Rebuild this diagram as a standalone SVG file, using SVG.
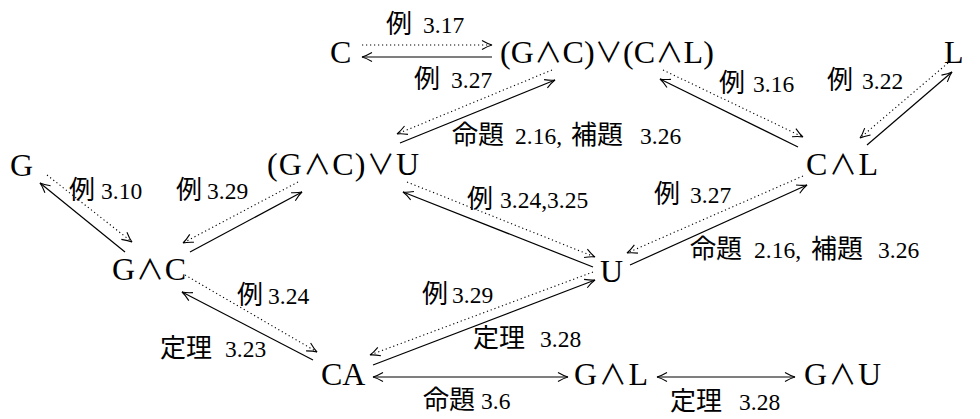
<svg xmlns="http://www.w3.org/2000/svg" width="980" height="419" viewBox="0 0 980 419">
  <style>
    .n { font-family: "Liberation Serif", "DejaVu Serif", serif; font-size: 32px; fill: #000; }
    .op { font-family: "Noto Sans CJK JP", "DejaVu Sans", sans-serif; font-size: 28px; }
    .j { font-family: "Noto Sans CJK JP", sans-serif; font-size: 26px; fill: #000; }
    .d { font-family: "Liberation Serif", serif; font-size: 23.5px; fill: #000; }
    .solid { stroke: #000; stroke-width: 1.2; fill: none; marker-end: url(#head); }
    .dot { stroke: #000; stroke-width: 1.1; fill: none; stroke-dasharray: 1.2 2.8; marker-end: url(#head); }
    .both { stroke: #000; stroke-width: 1.2; fill: none; marker-end: url(#head); marker-start: url(#head); }
  </style>
  <defs>
    <marker id="head" markerUnits="userSpaceOnUse" markerWidth="14" markerHeight="12" viewBox="-11 -6 13 12" refX="0" refY="0" orient="auto-start-reverse" overflow="visible">
      <path d="M-10,-4.5 C-5,-1.6 -2,-0.5 0,0 C-2,0.5 -5,1.6 -10,4.5" fill="none" stroke="#000" stroke-width="1.1"/>
    </marker>
  </defs>

  <!-- connectors -->
  <g id="edges">
    <line class="dot" x1="362" y1="45" x2="492" y2="45"/>
    <line class="solid" x1="492" y1="57" x2="362" y2="57"/>

    <line class="dot" x1="552" y1="70" x2="397" y2="134"/>
    <line class="solid" x1="400" y1="143" x2="555" y2="80"/>

    <line class="dot" x1="663" y1="70" x2="803" y2="137"/>
    <line class="solid" x1="798" y1="147" x2="660" y2="79"/>

    <line class="dot" x1="948" y1="63" x2="860" y2="138"/>
    <line class="solid" x1="867" y1="145" x2="952" y2="72"/>

    <line class="dot" x1="47" y1="175" x2="132" y2="242"/>
    <line class="solid" x1="125" y1="252" x2="40" y2="183"/>

    <line class="dot" x1="298" y1="182" x2="183" y2="243"/>
    <line class="solid" x1="190" y1="252" x2="302" y2="192"/>

    <line class="dot" x1="407" y1="182" x2="595" y2="257"/>
    <line class="solid" x1="593" y1="267" x2="403" y2="192"/>

    <line class="dot" x1="803" y1="176" x2="627" y2="253"/>
    <line class="solid" x1="630" y1="265" x2="807" y2="185"/>

    <line class="dot" x1="593" y1="272" x2="370" y2="355"/>
    <line class="solid" x1="373" y1="365" x2="595" y2="280"/>

    <line class="dot" x1="185" y1="275" x2="317" y2="352"/>
    <line class="solid" x1="313" y1="360" x2="182" y2="292"/>

    <line class="both" x1="373" y1="377" x2="568" y2="377"/>
    <line class="both" x1="657" y1="377" x2="795" y2="377"/>
  </g>

  <!-- edge labels -->
  <g id="labels">
    <text y="33"><tspan class="j" x="386">例</tspan><tspan class="d" x="423">3.17</tspan></text>
    <text y="88"><tspan class="j" x="414">例</tspan><tspan class="d" x="451">3.27</tspan></text>
    <text y="92"><tspan class="j" x="719">例</tspan><tspan class="d" x="753">3.16</tspan></text>
    <text y="89"><tspan class="j" x="827">例</tspan><tspan class="d" x="862">3.22</tspan></text>
    <text y="144"><tspan class="j" x="452">命題</tspan><tspan class="d" x="515">2.16,</tspan><tspan class="j" x="571">補題</tspan><tspan class="d" x="640">3.26</tspan></text>
    <text y="199"><tspan class="j" x="69">例</tspan><tspan class="d" x="101">3.10</tspan></text>
    <text y="199"><tspan class="j" x="176">例</tspan><tspan class="d" x="207">3.29</tspan></text>
    <text y="208"><tspan class="j" x="467">例</tspan><tspan class="d" x="500">3.24,3.25</tspan></text>
    <text y="203"><tspan class="j" x="654">例</tspan><tspan class="d" x="690">3.27</tspan></text>
    <text y="258"><tspan class="j" x="690">命題</tspan><tspan class="d" x="754">2.16,</tspan><tspan class="j" x="811">補題</tspan><tspan class="d" x="878">3.26</tspan></text>
    <text y="304"><tspan class="j" x="237">例</tspan><tspan class="d" x="268">3.24</tspan></text>
    <text y="303"><tspan class="j" x="422">例</tspan><tspan class="d" x="452">3.29</tspan></text>
    <text y="357"><tspan class="j" x="160">定理</tspan><tspan class="d" x="225">3.23</tspan></text>
    <text y="347"><tspan class="j" x="473">定理</tspan><tspan class="d" x="540">3.28</tspan></text>
    <text y="409"><tspan class="j" x="423">命題</tspan><tspan class="d" x="481">3.6</tspan></text>
    <text y="410"><tspan class="j" x="670">定理</tspan><tspan class="d" x="739">3.28</tspan></text>
  </g>

  <!-- nodes -->
  <g id="n-C"><text class="n" x="330" y="63">C</text></g>
  <g id="n-GCorCL"><text class="n" x="500" y="63" textLength="214" lengthAdjust="spacing">(G<tspan class="op">∧</tspan>C)<tspan class="op">∨</tspan>(C<tspan class="op">∧</tspan>L)</text></g>
  <g id="n-L"><text class="n" x="944" y="63">L</text></g>
  <g id="n-G"><text class="n" x="10" y="176">G</text></g>
  <g id="n-GCorU"><text class="n" x="267" y="175" textLength="152" lengthAdjust="spacing">(G<tspan class="op">∧</tspan>C)<tspan class="op">∨</tspan>U</text></g>
  <g id="n-CL"><text class="n" x="806" y="175" textLength="72" lengthAdjust="spacing">C<tspan class="op">∧</tspan>L</text></g>
  <g id="n-GC"><text class="n" x="112" y="280" textLength="74" lengthAdjust="spacing">G<tspan class="op">∧</tspan>C</text></g>
  <g id="n-U"><text class="n" x="600" y="282">U</text></g>
  <g id="n-CA"><text class="n" x="321" y="385">CA</text></g>
  <g id="n-GL"><text class="n" x="574" y="385" textLength="74" lengthAdjust="spacing">G<tspan class="op">∧</tspan>L</text></g>
  <g id="n-GU"><text class="n" x="804" y="385" textLength="77" lengthAdjust="spacing">G<tspan class="op">∧</tspan>U</text></g>
</svg>
